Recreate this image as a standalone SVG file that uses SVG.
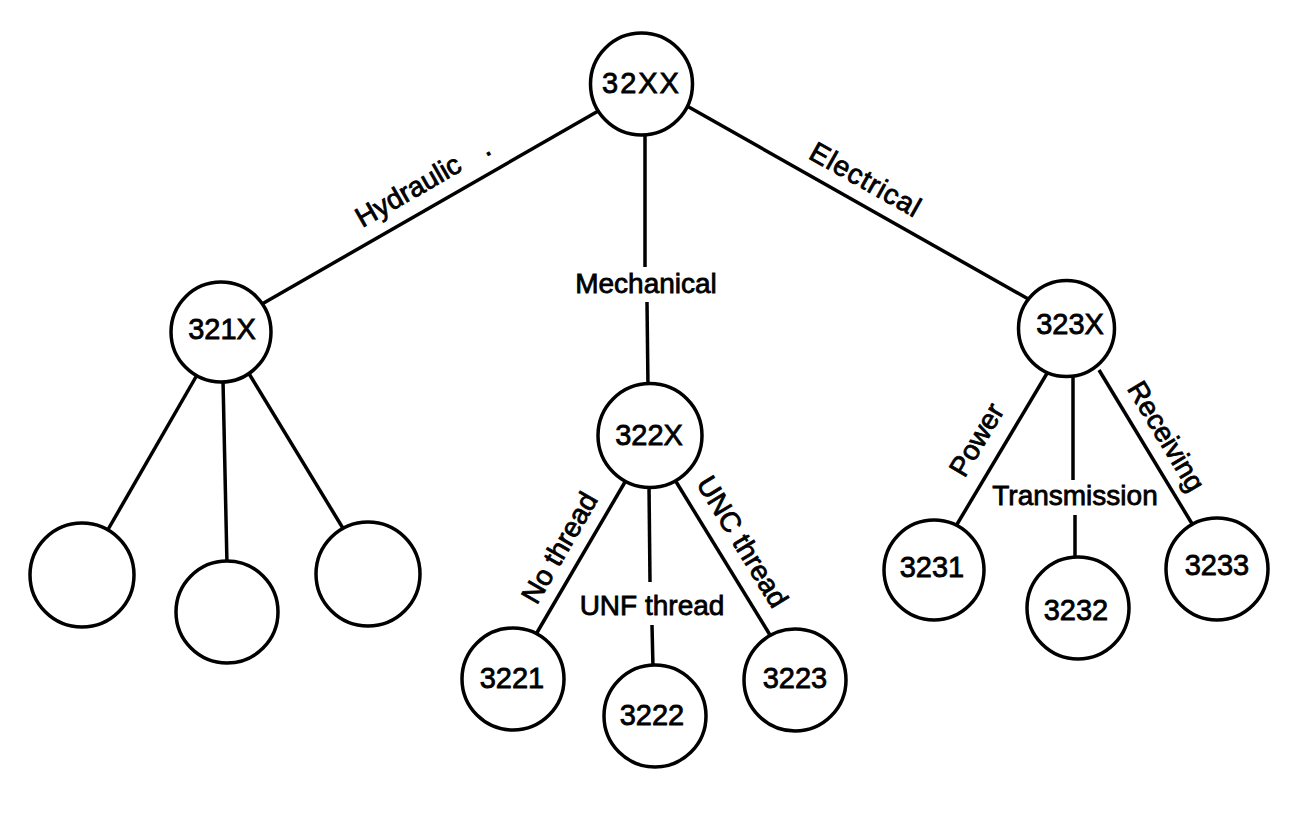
<svg xmlns="http://www.w3.org/2000/svg" width="1296" height="815" viewBox="0 0 1296 815">
<style>
.e{stroke:#000;stroke-width:3.5;fill:none;stroke-linecap:butt}
.n{fill:#fff;stroke:#000;stroke-width:3.5}
.t{font-family:"Liberation Sans",Arial,sans-serif;font-size:29px;fill:#000;stroke:#000;stroke-width:0.8;text-anchor:middle}
.l{font-family:"Liberation Sans",Arial,sans-serif;font-size:28px;fill:#000;stroke:#000;stroke-width:0.8;text-anchor:middle}
</style>
<rect width="1296" height="815" fill="#fff"/>
<g id="connectors">
<line class="e" x1="262" y1="304" x2="600" y2="110"/>
<line class="e" x1="687" y1="106" x2="1030" y2="300"/>
<line class="e" x1="645" y1="132" x2="645" y2="267"/>
<line class="e" x1="647" y1="302" x2="648" y2="388"/>
<line class="e" x1="197" y1="375" x2="106" y2="533"/>
<line class="e" x1="223" y1="380" x2="227" y2="565"/>
<line class="e" x1="248" y1="372" x2="344" y2="530"/>
<line class="e" x1="625" y1="482" x2="535" y2="636"/>
<line class="e" x1="649" y1="485" x2="650" y2="582"/>
<line class="e" x1="652" y1="625" x2="653" y2="668"/>
<line class="e" x1="675" y1="480" x2="770" y2="635"/>
<line class="e" x1="1049" y1="370" x2="956" y2="526"/>
<line class="e" x1="1073" y1="374" x2="1073" y2="480"/>
<line class="e" x1="1075" y1="515" x2="1075" y2="561"/>
<line class="e" x1="1099" y1="370" x2="1194" y2="527"/>
<text class="l" transform="translate(409,192) rotate(-29.8)" x="-58.5" y="8" style="text-anchor:start">Hydraulic<tspan dx="26">.</tspan></text>
<text class="l" transform="translate(865,181) rotate(29.4)" x="0" y="8" letter-spacing="1">Electrical</text>
<text class="l" x="646" y="293">Mechanical</text>
<text class="l" transform="translate(560,548) rotate(-59.8)" x="0" y="9">No thread</text>
<text class="l" x="652" y="615">UNF thread</text>
<text class="l" transform="translate(742,542) rotate(58.6)" x="0" y="9">UNC thread</text>
<text class="l" transform="translate(977,440) rotate(-59.3)" x="0" y="9">Power</text>
<text class="l" x="1075" y="505">Transmission</text>
<text class="l" transform="translate(1165,437) rotate(58.9)" x="0" y="8">Receiving</text>
</g>
<g id="n32XX"><circle class="n" cx="641.5" cy="84" r="51"/><text class="t" x="641.5" y="93" letter-spacing="2">32XX</text></g>
<g id="n321X"><circle class="n" cx="221" cy="332" r="50"/><text class="t" x="222" y="339">321X</text></g>
<g id="n322X"><circle class="n" cx="650" cy="435.5" r="52"/><text class="t" x="649" y="445">322X</text></g>
<g id="n323X"><circle class="n" cx="1066.5" cy="328.5" r="48"/><text class="t" x="1070" y="334">323X</text></g>
<g id="h1"><circle class="n" cx="82" cy="575" r="52"/></g>
<g id="h2"><circle class="n" cx="227" cy="612" r="51"/></g>
<g id="h3"><circle class="n" cx="368" cy="574" r="52"/></g>
<g id="n3221"><circle class="n" cx="513" cy="679" r="51"/><text class="t" x="512" y="688">3221</text></g>
<g id="n3222"><circle class="n" cx="655" cy="716" r="51"/><text class="t" x="652" y="725">3222</text></g>
<g id="n3223"><circle class="n" cx="795" cy="680" r="51"/><text class="t" x="795" y="688">3223</text></g>
<g id="n3231"><circle class="n" cx="934" cy="570" r="50"/><text class="t" x="932" y="577">3231</text></g>
<g id="n3232"><circle class="n" cx="1078" cy="608" r="51"/><text class="t" x="1076" y="620">3232</text></g>
<g id="n3233"><circle class="n" cx="1217" cy="569" r="51"/><text class="t" x="1217" y="575">3233</text></g>
</svg>
